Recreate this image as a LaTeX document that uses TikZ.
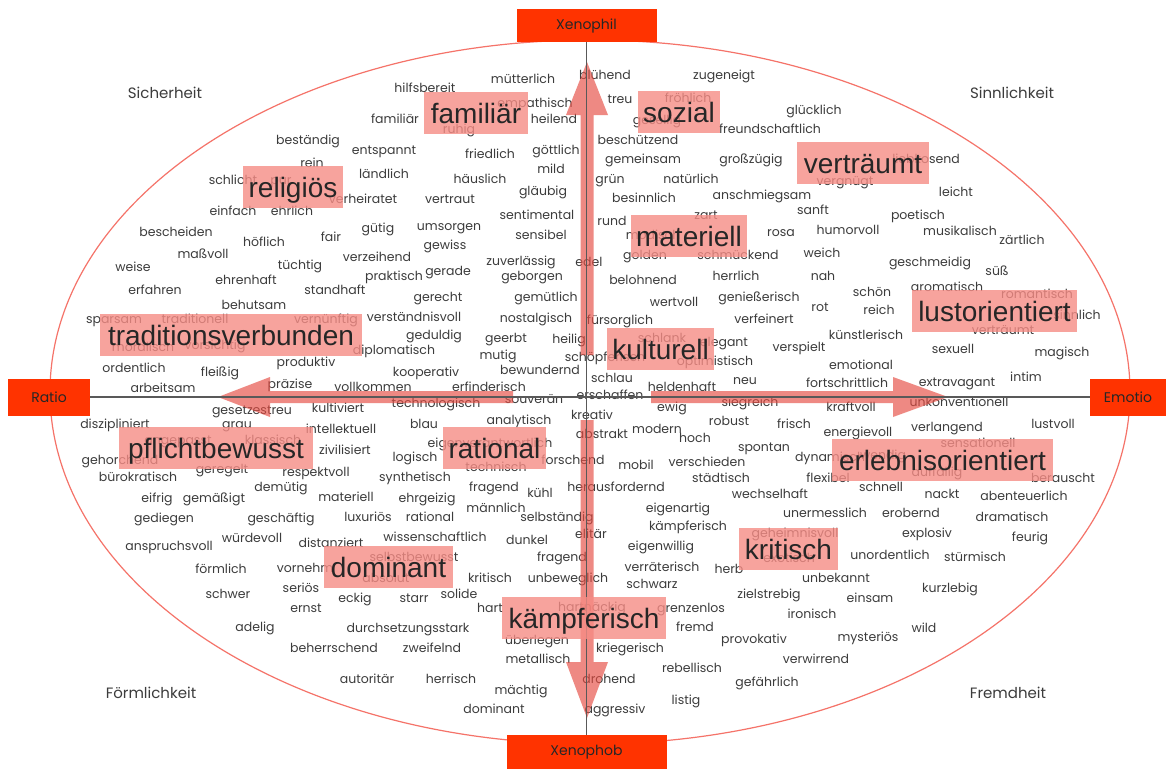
\documentclass[tikz,border=0pt]{standalone}
\usepackage{fontspec}
\setmainfont{Poppins}
\newfontfamily\lblfont{Liberation Sans}
\definecolor{axisred}{RGB}{255,51,0}
\definecolor{boxred}{RGB}{246,140,133}
\definecolor{arrred}{RGB}{230,75,65}
\definecolor{ellred}{RGB}{245,115,105}
\definecolor{wordcol}{RGB}{60,60,60}
\begin{document}
\begin{tikzpicture}[x=1pt,y=-1pt,
  word/.style={font=\fontsize{12.5}{13}\selectfont, text=wordcol, inner sep=0pt, anchor=base, yshift=-4pt},
  corner/.style={font=\fontsize{15}{16}\selectfont, text=wordcol, inner sep=0pt},
  axbox/.style={fill=axisred, text=black!85, font=\fontsize{14}{15}\selectfont, inner sep=0pt},
  lbl/.style={fill=boxred, fill opacity=0.8, text opacity=1, text=black!85, font=\lblfont\fontsize{28}{30}\selectfont, inner sep=0pt, text height=21pt, text depth=0pt, minimum height=42pt},
  arr/.style={fill=arrred, fill opacity=0.65, draw=none},
  axisline/.style={draw=black!65, line width=1.1pt}]
\useasboundingbox (0,0) rectangle (1166,769);
\fill[white] (0,0) rectangle (1166,769);
\draw[ellred, line width=1.2pt] (590,392) ellipse [x radius=540pt, y radius=352pt];
% words
\foreach \t/\x/\y [count=\i] in {
hilfsbereit/425/88, mütterlich/523/79, empathisch/535/103, familiär/395/119, heilend/554/119, ruhig/459/129,
beständig/308/140, entspannt/384/150, friedlich/490/154, göttlich/556/150, rein/312/163, mild/551/169,
ländlich/384/174, häuslich/480/179, schlicht/233/180, pur/281/180, gläubig/543/191, verheiratet/363/199,
vertraut/450/199, einfach/233/211, ehrlich/292/211, sentimental/537/215, gütig/378/228, umsorgen/449/226,
bescheiden/176/232, sensibel/541/235, fair/331/237, höflich/264/242, gewiss/445/245, maßvoll/203/254,
verzeihend/377/257, zuverlässig/521/261, edel/589/262, tüchtig/300/265, weise/133/267, gerade/448/271,
praktisch/394/276, geborgen/532/276, ehrenhaft/246/280, erfahren/155/290, standhaft/335/290, gerecht/438/297,
gemütlich/546/297, behutsam/254/305, verständnisvoll/414/317, nostalgisch/536/318, sparsam/114/319,
traditionell/195/319, vernünftig/326/319, geduldig/434/335, geerbt/506/338, heilig/569/339, vorsichtig/215/345,
moralisch/143/347, diplomatisch/394/350, mutig/498/355, produktiv/306/362, ordentlich/134/368,
bewundernd/540/370, fleißig/220/372, kooperativ/426/372, präzise/290/384, vollkommen/373/387,
erfinderisch/489/387, arbeitsam/163/388,
souverän/534/399, technologisch/436/403, kultiviert/338/408, gesetzestreu/252/410, analytisch/519/420,
diszipliniert/115/424, grau/237/424, blau/424/424, intellektuell/341/429, angepasst/178/440, klassisch/273/440,
eigenverantwortlich/490/443, zivilisiert/345/450, logisch/415/457, gehorchend/120/460, forschend/573/460,
technisch/496/467, geregelt/222/469, respektvoll/316/472, bürokratisch/138/477, synthetisch/415/477,
demütig/281/487, fragend/494/487, herausfordernd/616/487, kühl/540/493, eifrig/157/498, gemäßigt/214/498,
materiell/346/497, ehrgeizig/427/498, männlich/496/508, gediegen/164/518, geschäftig/281/518, luxuriös/368/517,
rational/430/517, selbständig/557/517, elitär/591/534, wissenschaftlich/435/537, würdevoll/252/538,
dunkel/527/540, distanziert/331/543, anspruchsvoll/169/546, selbstbewusst/414/557, fragend/562/557,
förmlich/221/569, vornehm/305/568, absolut/386/578, kritisch/490/578, unbeweglich/568/578, seriös/301/588,
schwer/228/594, solide/459/594, eckig/355/598, starr/414/598, ernst/306/608, hart/490/608, hartnäckig/592/607,
adelig/255/627, durchsetzungsstark/408/628, überlegen/537/640, beherrschend/334/648, zweifelnd/432/648,
metallisch/538/659, autoritär/367/679, herrisch/451/679, drohend/609/679, mächtig/521/690, dominant/494/709,
aggressiv/615/709,
blühend/605/75, zugeneigt/724/75, fröhlich/688/98, treu/620/99, glücklich/814/110, gesellig/657/120,
freundschaftlich/770/129, beschützend/638/140, gemeinsam/643/159, großzügig/751/159, liebkosend/926/159,
grün/610/179, natürlich/691/179, vergnügt/845/181, leicht/956/192, anschmiegsam/762/195, besinnlich/644/198,
sanft/813/210, zart/706/215, poetisch/918/215, rund/612/221, humorvoll/848/230, musikalisch/960/231,
rosa/781/232, modisch/653/235, zärtlich/1022/240, weich/822/253, golden/645/255, schmückend/738/255,
geschmeidig/930/262, süß/997/271, herrlich/736/276, nah/823/276, belohnend/643/280, aromatisch/947/287,
schön/872/292, romantisch/1037/294, genießerisch/759/297, wertvoll/674/302, rot/820/307, reich/879/310,
sinnlich/1077/315, fürsorglich/620/320, verfeinert/764/319, verträumt/1003/330, künstlerisch/866/335,
schlank/662/338, elegant/724/342, verspielt/799/347, sexuell/953/349, magisch/1062/352, schöpferisch/605/357,
optimistisch/715/361, emotional/861/365, intim/1026/377, schlau/612/378, neu/745/380, extravagant/957/382,
fortschrittlich/847/383, heldenhaft/682/387, erschaffen/610/395,
unkonventionell/959/402, siegreich/750/402, ewig/672/407, kraftvoll/851/407, kreativ/592/415, robust/729/421,
frisch/794/424, lustvoll/1053/424, verlangend/947/427, modern/657/429, energievoll/858/432, abstrakt/602/434,
hoch/695/438, sensationell/978/443, spontan/764/447, wendig/883/455, dynamisch/830/457, verschieden/707/462,
mobil/636/465, auffällig/937/472, berauscht/1063/478, städtisch/721/478, flexibel/828/478, schnell/881/487,
wechselhaft/770/494, nackt/942/494, abenteuerlich/1024/496, eigenartig/678/508, unermesslich/825/513,
erobernd/911/513, dramatisch/1012/517, kämpferisch/688/526, geheimnisvoll/795/533, explosiv/927/533,
feurig/1030/537, eigenwillig/661/546, unordentlich/890/555, stürmisch/975/557, exotisch/789/558,
verräterisch/662/567, herb/729/569, unbekannt/836/578, schwarz/652/584, kurzlebig/950/588, zielstrebig/769/594,
einsam/870/598, grenzenlos/691/608, ironisch/812/614, fremd/695/627, wild/924/628, mysteriös/868/637,
provokativ/754/639, kriegerisch/630/648, verwirrend/816/659, rebellisch/692/668, gefährlich/767/682,
listig/686/700}
  \node[word] (w\i) at (\x,\y) {\t};
% arrows
\fill[arr] (580.5,355) -- (580.5,115) -- (566,115) -- (587,62) -- (608,115) -- (593.5,115) -- (593.5,355) -- cycle;
\fill[arr] (580.5,420) -- (580.5,662) -- (566,662) -- (587,718) -- (608,662) -- (593.5,662) -- (593.5,420) -- cycle;
\fill[arr] (513,391) -- (270,391) -- (270,377) -- (218,397) -- (270,417) -- (270,403) -- (513,403) -- cycle;
\fill[arr] (651,391) -- (893,391) -- (893,377) -- (948,397) -- (893,417) -- (893,403) -- (651,403) -- cycle;
% axis boxes
\node[axbox, minimum width=82pt, minimum height=37pt] (ratio) at (49,397) {Ratio};
\node[axbox, minimum width=76pt, minimum height=37pt] (emotio) at (1128,397) {Emotio};
\node[axbox, minimum width=140pt, minimum height=33pt] (xphil) at (586.5,25.5) {Xenophil};
\node[axbox, minimum width=160pt, minimum height=34pt] (xphob) at (586.5,752) {Xenophob};
\draw[axisline] (ratio) -- (emotio);
\draw[axisline] (xphil) -- (xphob);
% corner labels
\node[corner] (c1) at (165,93) {Sicherheit};
\node[corner] (c2) at (1012,93) {Sinnlichkeit};
\node[corner] (c3) at (151,693) {Förmlichkeit};
\node[corner] (c4) at (1008,693) {Fremdheit};
% big labels
\foreach \t/\x/\y/\w [count=\i] in {
familiär/476/112.5/104, sozial/679/112/82, verträumt/863/162.5/132, religiös/293/186.5/100,
materiell/689/236/116, traditionsverbunden/231/335/262, lustorientiert/994.5/311/165,
kulturell/660.5/349/107, pflichtbewusst/216/448/194, rational/494.5/448/103,
erlebnisorientiert/942.5/459.5/221, kritisch/788.5/549/99, dominant/388.5/566.5/129,
kämpferisch/584/618/164}
  \node[lbl, minimum width=\w pt] (L\i) at (\x,\y) {\t};
\end{tikzpicture}
\end{document}
